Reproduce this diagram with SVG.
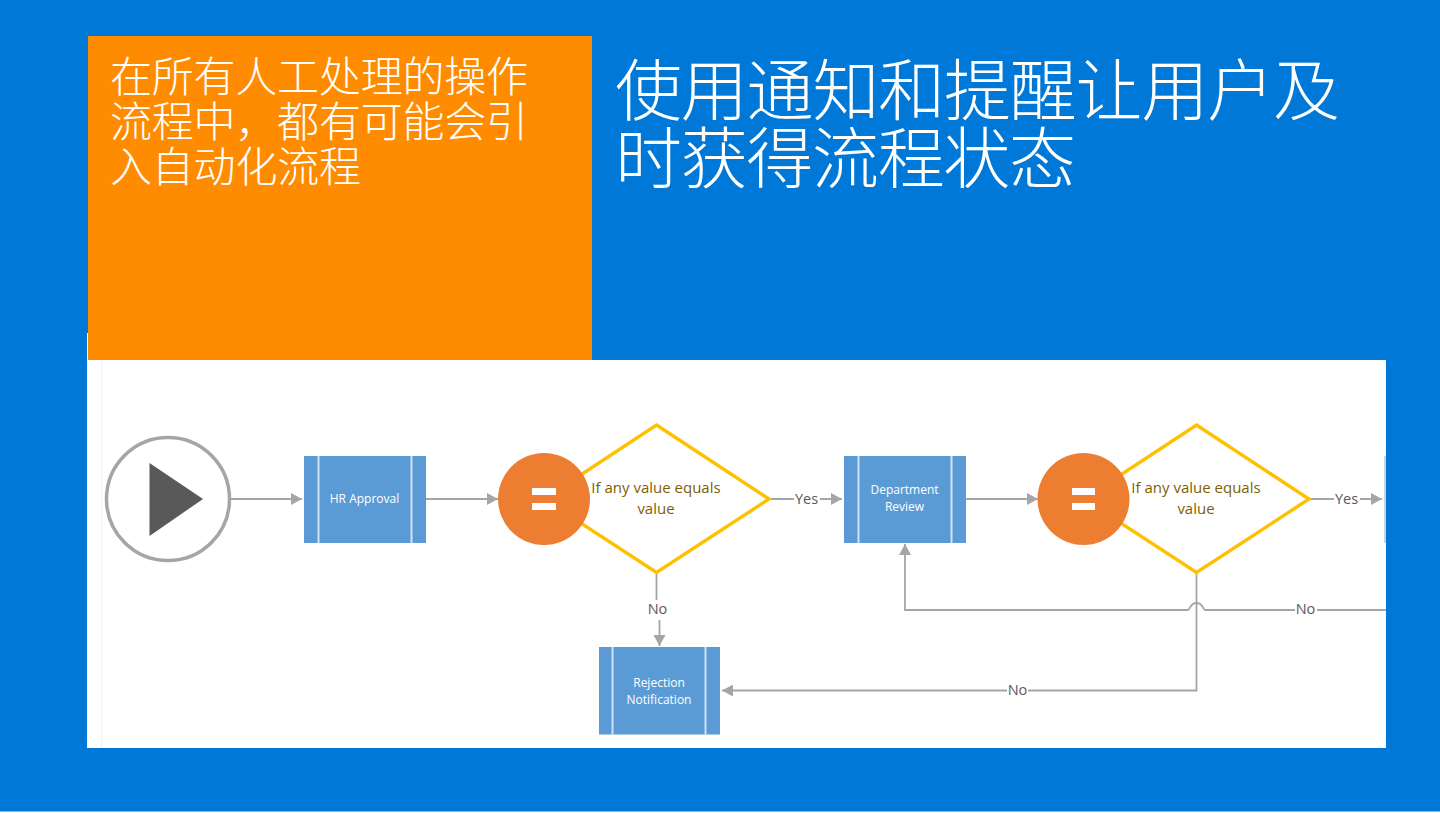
<svg xmlns="http://www.w3.org/2000/svg" width="1440" height="813" viewBox="0 0 1440 813">
<style>
.cjk{font-family:"Noto Sans CJK SC","Noto Sans CJK JP",sans-serif;fill:#fff;font-weight:300}
.lt{font-size:42px}.tt{font-size:67px}
.proc{fill:#5b9bd5}.div{stroke:#cfe2f3;stroke-width:2;fill:none}
.pt{font-family:"Open Sans","Noto Sans",sans-serif;font-size:12px;fill:#fff;text-anchor:middle}
.dt{font-family:"Open Sans","Noto Sans",sans-serif;font-size:15px;fill:#7f6000;text-anchor:middle}
.lb{font-family:"Open Sans","Noto Sans",sans-serif;font-size:14.5px;fill:#595959;text-anchor:middle}
.ln{fill:none;stroke:#a5a5a5;stroke-width:1.8}
.halo{fill:#fff}
.dia{fill:#fff;stroke:#ffc000;stroke-width:3.4}
.orange{fill:#ed7d31}
.eq{fill:#fff}
</style>
<defs>
<marker id="ah" markerUnits="userSpaceOnUse" markerWidth="12" markerHeight="12" refX="11" refY="6" orient="auto"><path d="M0 0L11 6L0 12Z" fill="#a5a5a5"/></marker>
</defs>
<rect id="page" width="1440" height="813" fill="#fff"/>
<rect id="background" width="1440" height="811.5" fill="#0078d7"/>
<rect id="panel" x="87" y="360" width="1299" height="388" fill="#fff"/>
<rect id="panel-sliver" x="87" y="333" width="1" height="27" fill="#fff"/>
<path d="M101.500 360V748" stroke="#f2f2f2" stroke-width="1" fill="none"/>
<g id="callout">
<rect x="88" y="36" width="504" height="324" fill="#ff8c00"/>
<text class="cjk lt" x="110" y="92" textLength="418" lengthAdjust="spacing">在所有人工处理的操作</text>
<text class="cjk lt" x="110" y="137" textLength="418" lengthAdjust="spacing">流程中，都有可能会引</text>
<text class="cjk lt" x="110" y="182" textLength="251" lengthAdjust="spacing">入自动化流程</text>
</g>
<g id="title">
<text class="cjk tt" x="615" y="115" textLength="725" lengthAdjust="spacing">使用通知和提醒让用户及</text>
<text class="cjk tt" x="615" y="183" textLength="461" lengthAdjust="spacing">时获得流程状态</text>
</g>
<g id="connectors">
<path class="ln" d="M231 499H302" marker-end="url(#ah)"/>
<path class="ln" d="M426 499H498" marker-end="url(#ah)"/>
<path class="ln" d="M770 499H842" marker-end="url(#ah)"/>
<path class="ln" d="M966 499H1038" marker-end="url(#ah)"/>
<path class="ln" d="M1310 499H1382" marker-end="url(#ah)"/>
<path class="ln" d="M656.500 573V610H659.500V646" marker-end="url(#ah)"/>
<path class="ln" d="M1386 610H1205C1203 610 1203 603 1196.500 603C1190 603 1190 610 1188 610H905V544" marker-end="url(#ah)"/>
<path class="ln" d="M1196.500 573V690.500H722" marker-end="url(#ah)"/>
</g>
<g id="start">
<circle cx="168" cy="499" r="61.500" fill="#fff" stroke="#a5a5a5" stroke-width="3.500"/>
<path d="M149.500 463L203 499L149.500 536Z" fill="#595959"/>
</g>
<g id="hr-approval">
<rect class="proc" x="304" y="456" width="122" height="87"/>
<path class="div" d="M318.500 456V543M411.500 456V543"/>
<text class="pt" x="364.500" y="503">HR Approval</text>
</g>
<g id="condition-1">
<path class="dia" d="M656.500 425L769 499L656.500 572.500L544 499Z"/>
<circle class="orange" cx="544" cy="499" r="46"/>
<path class="eq" d="M532 488H556V495H532ZM532 503H556V510H532Z"/>
<text class="dt" x="656" y="493">If any value equals</text>
<text class="dt" x="656" y="514">value</text>
</g>
<g id="department-review">
<rect class="proc" x="844" y="456" width="122" height="87"/>
<path class="div" d="M858.500 456V543M951.500 456V543"/>
<text class="pt" x="904.500" y="494">Department</text>
<text class="pt" x="904.500" y="511">Review</text>
</g>
<g id="condition-2">
<path class="dia" d="M1196.500 425L1309 499L1196.500 572.500L1084 499Z"/>
<circle class="orange" cx="1083.500" cy="499" r="46"/>
<path class="eq" d="M1072 488H1095V495H1072ZM1072 503H1095V510H1072Z"/>
<text class="dt" x="1196" y="493">If any value equals</text>
<text class="dt" x="1196" y="514">value</text>
</g>
<g id="rejection-notification">
<rect class="proc" x="599" y="647" width="121" height="87.500"/>
<path class="div" d="M612.500 647V734.500M705.500 647V734.500"/>
<text class="pt" x="659" y="687">Rejection</text>
<text class="pt" x="659" y="704">Notification</text>
</g>
<g id="next-step-clipped">
<rect x="1384" y="456" width="2" height="87" fill="#c5d5e8"/>
</g>
<g id="connector-labels">
<rect class="halo" x="794" y="490" width="26" height="18"/><text class="lb" x="806.500" y="504">Yes</text>
<rect class="halo" x="1334" y="490" width="26" height="18"/><text class="lb" x="1346.500" y="504">Yes</text>
<rect class="halo" x="646" y="600" width="22" height="20"/><text class="lb" x="657.500" y="614">No</text>
<rect class="halo" x="1295" y="601" width="22" height="18"/><text class="lb" x="1305.500" y="614">No</text>
<rect class="halo" x="1007" y="682" width="21" height="18"/><text class="lb" x="1017.500" y="695">No</text>
</g>
</svg>
